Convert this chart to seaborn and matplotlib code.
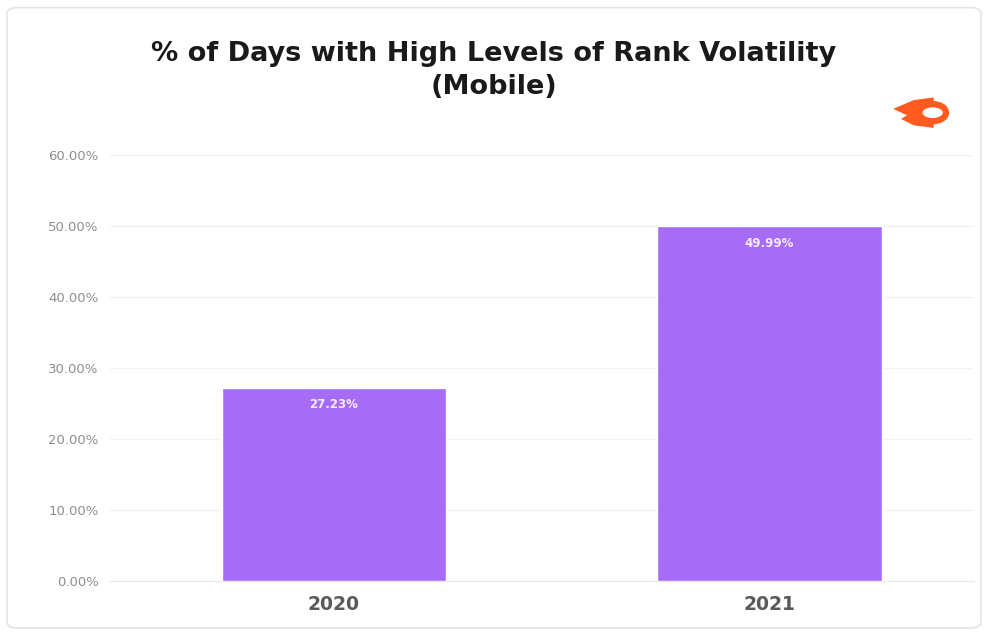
import pandas as pd
import matplotlib.pyplot as plt
import seaborn as sns
from matplotlib.patches import FancyBboxPatch, Circle, Polygon

years = ['2020', '2021']
values = [27.23, 49.99]
value_labels = ['27.23%', '49.99%']
yticks = [0, 10, 20, 30, 40, 50, 60]

df = pd.DataFrame({'Year': years, 'Share': values})

sns.set_style('white')
plt.rcParams['font.family'] = ['DejaVu Sans']

fig = plt.figure(figsize=(9.88, 6.33), dpi=100)
ax = fig.add_axes([0.111, 0.082, 0.875, 0.673])

sns.barplot(data=df, x='Year', y='Share', color='#a66cf6', saturation=1,
            width=0.516, ax=ax, zorder=3)

ax.set_xlim(-0.515, 1.47)
ax.set_ylim(0, 60)
ax.set_yticks(yticks)
ax.set_yticklabels([f'{t:.2f}%' for t in yticks], fontsize=9.5, color='#8f8f8f')
ax.tick_params(axis='x', labelsize=13.5, colors='#5a5a5a', length=0, pad=10)
ax.tick_params(axis='y', length=0, pad=8)
for lab in ax.get_xticklabels():
    lab.set_fontweight('bold')
ax.set_xlabel('')
ax.set_ylabel('')
ax.grid(axis='y', color='#f2f2f2', linewidth=1, zorder=0)
for side in ['top', 'right', 'left']:
    ax.spines[side].set_visible(False)
ax.spines['bottom'].set_color('#e8e8e8')

for i, (v, lab) in enumerate(zip(values, value_labels)):
    ax.text(i, v - 2.4, lab, ha='center', va='center', fontsize=8.5,
            color='#f4ecff', fontweight='bold', zorder=4)

fig.text(0.5, 0.889, '% of Days with High Levels of Rank Volatility\n(Mobile)',
         ha='center', va='center', fontsize=19.5, fontweight='bold',
         color='#1a1a1a', linespacing=1.36)

# logo
tail = Polygon([(0.904, 0.828), (0.925, 0.842), (0.945, 0.846), (0.945, 0.798),
                (0.925, 0.802), (0.912, 0.812), (0.918, 0.818)], closed=True,
               transform=fig.transFigure, facecolor='#ff5a1f', edgecolor='none')
fig.add_artist(tail)
logo = Circle((0.944, 0.822), 0.0135, transform=fig.transFigure,
              facecolor='white', edgecolor='#ff5a1f', linewidth=4.5)
fig.add_artist(logo)

# frame
frame = FancyBboxPatch((0.007, 0.008), 0.986, 0.98, transform=fig.transFigure,
                       boxstyle='round,pad=0,rounding_size=0.01',
                       facecolor='none', edgecolor='#e4e4e4', linewidth=1.2)
fig.add_artist(frame)

fig.savefig('out.png', dpi=100)
